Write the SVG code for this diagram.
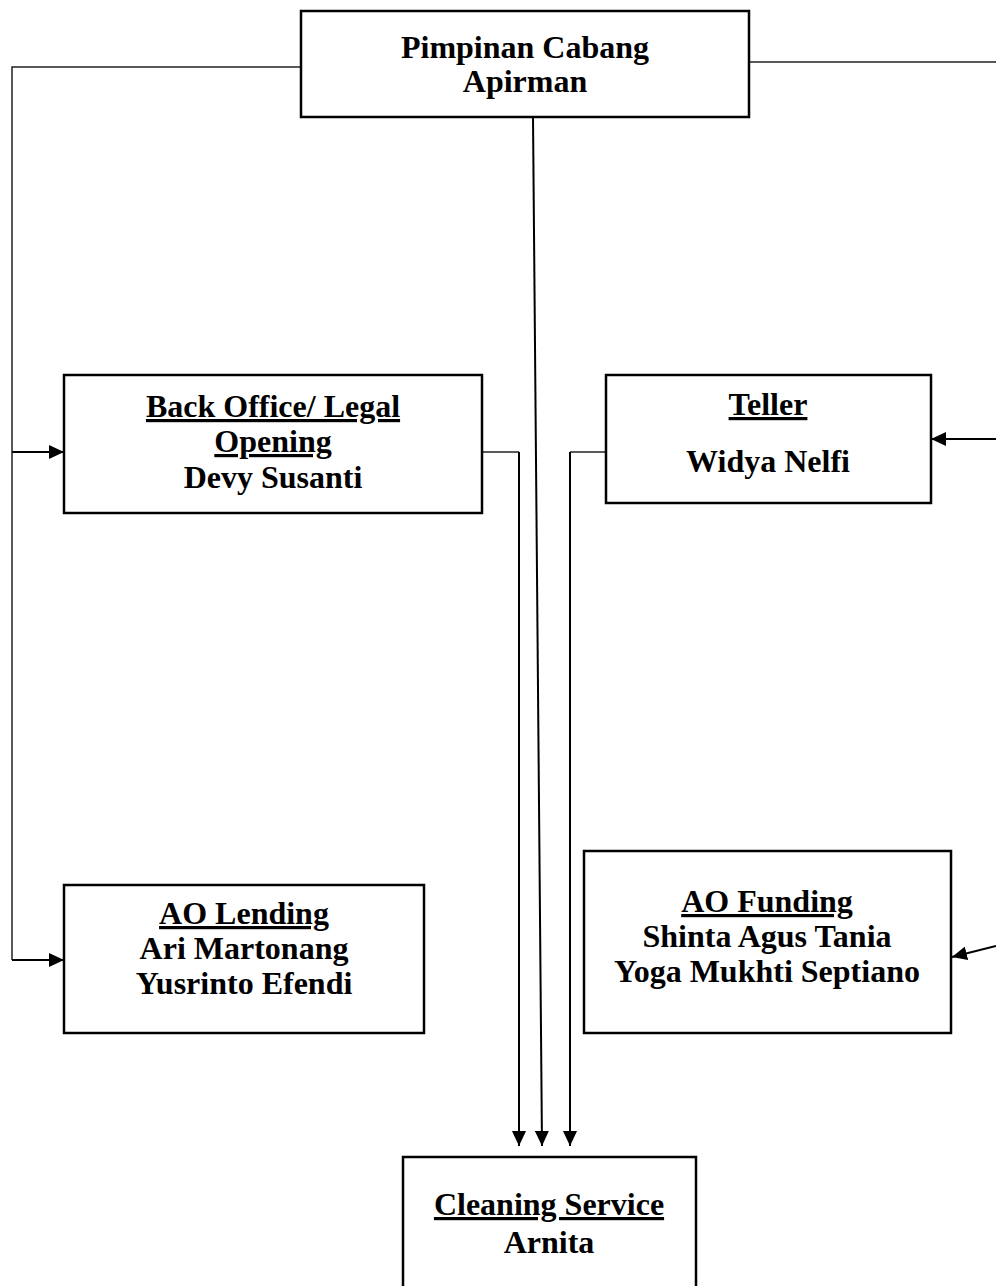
<svg xmlns="http://www.w3.org/2000/svg" width="996" height="1286" viewBox="0 0 996 1286">
<style>
.box{fill:#fff;stroke:#000;stroke-width:2.5}
.t{font-family:"Liberation Serif","Times New Roman",serif;font-weight:bold;font-size:32px;fill:#000;text-anchor:middle}
.u{text-decoration:underline}
.c{fill:none;stroke:#222;stroke-width:1.5}
.a{fill:none;stroke:#000;stroke-width:2}
</style>
<defs>
<marker id="ah" markerUnits="userSpaceOnUse" markerWidth="16" markerHeight="14" refX="15" refY="7" orient="auto">
<path d="M0,0 L15,7 L0,14 Z" fill="#000"/>
</marker>
</defs>
<rect width="996" height="1286" fill="#fff"/>
<g id="connectors">
<polyline class="c" points="301,67 12,67 12,452"/>
<polyline class="a" points="12,452 64,452" marker-end="url(#ah)"/>
<polyline class="c" points="12,452 12,960"/>
<polyline class="a" points="12,960 64,960" marker-end="url(#ah)"/>
<line class="c" x1="749" y1="62" x2="996" y2="62"/>
<line class="a" x1="996" y1="439" x2="931" y2="439" marker-end="url(#ah)"/>
<line class="a" x1="996" y1="946" x2="952" y2="957" marker-end="url(#ah)"/>
<polyline class="c" points="482,452 519,452"/>
<line class="a" x1="519" y1="452" x2="519" y2="1146" marker-end="url(#ah)"/>
<polyline class="c" points="606,452 570,452"/>
<line class="a" x1="570" y1="452" x2="570" y2="1146" marker-end="url(#ah)"/>
<line class="a" x1="533" y1="117" x2="542" y2="1146" marker-end="url(#ah)"/>
</g>
<g id="pimpinan">
<rect class="box" x="301" y="11" width="448" height="106"/>
<text class="t" x="525" y="58">Pimpinan Cabang</text>
<text class="t" x="525" y="92">Apirman</text>
</g>
<g id="backoffice">
<rect class="box" x="64" y="375" width="418" height="138"/>
<text class="t u" x="273" y="417">Back Office/ Legal</text>
<text class="t u" x="273" y="452">Opening</text>
<text class="t" x="273" y="488">Devy Susanti</text>
</g>
<g id="teller">
<rect class="box" x="606" y="375" width="325" height="128"/>
<text class="t u" x="768" y="415">Teller</text>
<text class="t" x="768" y="472">Widya Nelfi</text>
</g>
<g id="aolending">
<rect class="box" x="64" y="885" width="360" height="148"/>
<text class="t u" x="244" y="924">AO Lending</text>
<text class="t" x="244" y="959">Ari Martonang</text>
<text class="t" x="244" y="994">Yusrinto Efendi</text>
</g>
<g id="aofunding">
<rect class="box" x="584" y="851" width="367" height="182"/>
<text class="t u" x="767" y="912">AO Funding</text>
<text class="t" x="767" y="947">Shinta Agus Tania</text>
<text class="t" x="767" y="982">Yoga Mukhti Septiano</text>
</g>
<g id="cleaning">
<rect class="box" x="403" y="1157" width="293" height="140"/>
<text class="t u" x="549" y="1215">Cleaning Service</text>
<text class="t" x="549" y="1253">Arnita</text>
</g>
</svg>
